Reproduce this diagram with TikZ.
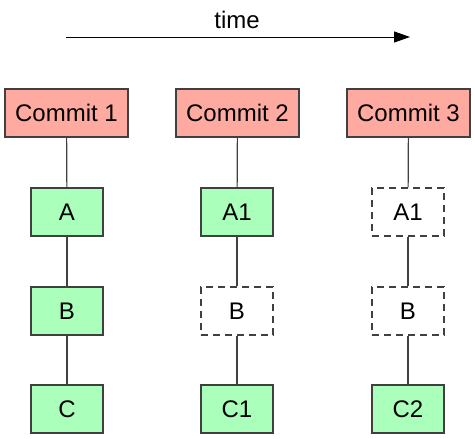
\documentclass[tikz,border=0pt]{standalone}
\usepackage{fontspec}
\setmainfont{Liberation Sans}
\usetikzlibrary{arrows.meta}
\definecolor{commitred}{HTML}{FFAAA0}
\definecolor{blobgreen}{HTML}{AAFFBB}
\definecolor{edgegray}{HTML}{404040}
\begin{document}
\begin{tikzpicture}[x=1pt,y=-1pt,
    every node/.style={font=\fontsize{24}{28}\selectfont},
    commit/.style={draw=edgegray,line width=1.3pt,fill=commitred,minimum width=123pt,minimum height=48pt,inner sep=0pt},
    blob/.style={draw=edgegray,line width=1.3pt,fill=blobgreen,minimum width=72pt,minimum height=48pt,inner sep=0pt},
    ref/.style={draw=edgegray,line width=1.3pt,dash pattern=on 7pt off 5pt,minimum width=72pt,minimum height=48pt,inner sep=0pt},
    link/.style={draw=edgegray,line width=1.2pt}]
    \useasboundingbox (0,0) rectangle (475,439);

    % Time arrow
    \coordinate (t0) at (66,37);
    \coordinate (t1) at (410,37);
    \draw[line width=1pt,-{Triangle[length=16pt,width=11pt]}] (t0) -- (t1);
    \node (time) at (237,20) {time};

    % Commit 1
    \node[commit] (c1) at (66.5,113) {Commit 1};
    \node[blob] (a) at (67,212) {A};
    \node[blob] (b) at (67,311) {B};
    \node[blob] (c) at (67,409) {C};
    \draw[link] (c1) -- (a);
    \draw[link] (a) -- (b);
    \draw[link] (b) -- (c);

    % Commit 2
    \node[commit] (c2) at (237.5,113) {Commit 2};
    \node[blob] (a1) at (237,212) {A1};
    \node[ref] (b2) at (237,311) {B};
    \node[blob] (c1b) at (237,409) {C1};
    \draw[link] (c2) -- (a1);
    \draw[link] (a1) -- (b2);
    \draw[link] (b2) -- (c1b);

    % Commit 3
    \node[commit] (c3) at (408.5,113) {Commit 3};
    \node[ref] (a13) at (408,212) {A1};
    \node[ref] (b3) at (408,311) {B};
    \node[blob] (c2b) at (408,409) {C2};
    \draw[link] (c3) -- (a13);
    \draw[link] (a13) -- (b3);
    \draw[link] (b3) -- (c2b);
\end{tikzpicture}
\end{document}
